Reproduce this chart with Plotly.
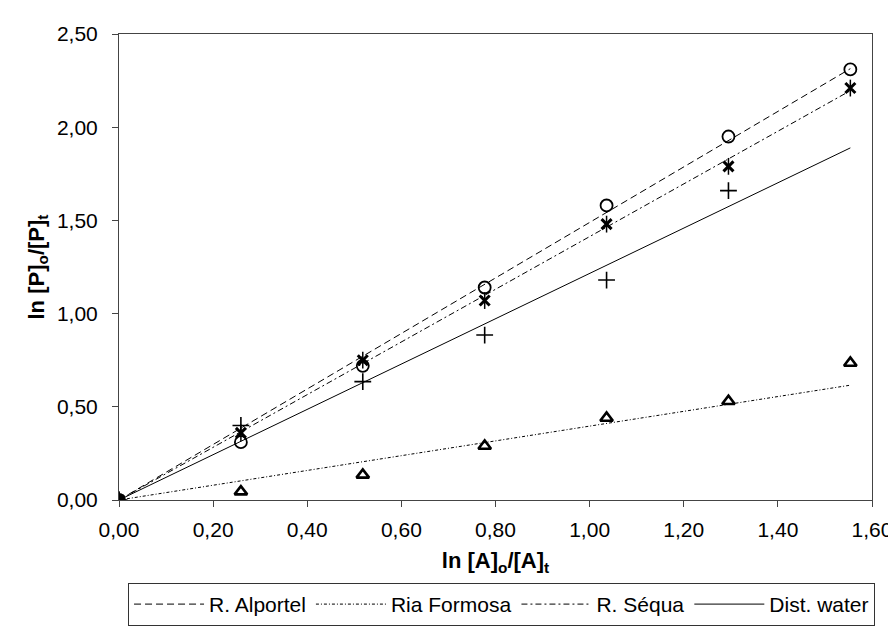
import plotly.graph_objects as go

# ---- data ----
x_vals = [0.0, 0.259, 0.518, 0.777, 1.036, 1.295, 1.554]
alportel = [0.0, 0.31, 0.72, 1.14, 1.58, 1.95, 2.31]
ria_formosa = [0.0, 0.045, 0.135, 0.29, 0.44, 0.53, 0.735]
sequa = [0.0, 0.36, 0.75, 1.07, 1.48, 1.79, 2.21]
dist_water = [0.0, 0.40, 0.635, 0.885, 1.18, 1.66]

series_names = ["R. Alportel", "Ria Formosa", "R. Séqua", "Dist. water"]
trend_x = [0.0, 1.554]
trend_end = [2.314, 0.616, 2.196, 1.889]   # trendline value at the last x

x_ticks = [0, 0.2, 0.4, 0.6, 0.8, 1.0, 1.2, 1.4, 1.6]
x_ticktext = ["0,00", "0,20", "0,40", "0,60", "0,80", "1,00", "1,20", "1,40", "1,60"]
y_ticks = [0, 0.5, 1.0, 1.5, 2.0, 2.5]
y_ticktext = ["0,00", "0,50", "1,00", "1,50", "2,00", "2,50"]

FONT = "Arial, 'Liberation Sans', sans-serif"
dashes = ["7px,4px", "3px,2px,1px,2px", "6px,3px,2px,3px", "solid"]

fig = go.Figure()

# trendlines (legend entries)
for name, end, dash in zip(series_names, trend_end, dashes):
    fig.add_trace(go.Scatter(
        x=trend_x, y=[0.0, end], mode="lines", name=name,
        line=dict(color="black", width=1, dash=dash),
        showlegend=True, hoverinfo="skip"))

# markers
fig.add_trace(go.Scatter(
    x=x_vals, y=alportel, mode="markers", showlegend=False,
    marker=dict(symbol="circle-open", size=12, color="black",
                line=dict(color="black", width=1.8))))
fig.add_trace(go.Scatter(
    x=x_vals, y=ria_formosa, mode="markers", showlegend=False,
    marker=dict(symbol="triangle-up-open", size=11, color="black",
                line=dict(color="black", width=2.6))))
fig.add_trace(go.Scatter(
    x=x_vals, y=sequa, mode="markers", showlegend=False,
    marker=dict(symbol="x-thin-open", size=10, color="black",
                line=dict(color="black", width=3))))
fig.add_trace(go.Scatter(
    x=x_vals, y=sequa, mode="markers", showlegend=False,
    marker=dict(symbol="line-ns-open", size=12, color="black",
                line=dict(color="black", width=1.5))))
fig.add_trace(go.Scatter(
    x=x_vals[:len(dist_water)], y=dist_water, mode="markers", showlegend=False,
    marker=dict(symbol="cross-thin-open", size=12, color="black",
                line=dict(color="black", width=1.6))))
# dark blob where all series meet at the origin
fig.add_trace(go.Scatter(
    x=x_vals[:1], y=alportel[:1], mode="markers", showlegend=False,
    marker=dict(symbol="square", size=10, color="black")))

fig.update_layout(
    width=896, height=630,
    margin=dict(l=111, r=28, t=26, b=124),
    paper_bgcolor="white", plot_bgcolor="white",
    font=dict(family=FONT, color="black", size=21),
    showlegend=True,
    legend=dict(
        orientation="h", x=0.012, y=-0.178, xanchor="left", yanchor="top",
        bordercolor="#333", borderwidth=1, bgcolor="white",
        font=dict(family=FONT, size=21, color="black"),
        itemwidth=70, tracegroupgap=0),
    xaxis=dict(
        range=[0, 1.6], tickvals=x_ticks, ticktext=x_ticktext,
        showgrid=False, zeroline=False,
        showline=True, linecolor="#444", linewidth=1, mirror=True,
        ticks="outside", ticklen=6, tickcolor="#444",
        tickfont=dict(size=21), ticklabelstandoff=5,
        title=dict(text="<b>ln [A]<sub>o</sub>/[A]<sub>t</sub></b>",
                   font=dict(size=22), standoff=12)),
    yaxis=dict(
        range=[0, 2.5], tickvals=y_ticks, ticktext=y_ticktext,
        showgrid=False, zeroline=False,
        showline=True, linecolor="#444", linewidth=1, mirror=True,
        ticks="outside", ticklen=6, tickcolor="#444",
        tickfont=dict(size=21), ticklabelstandoff=10,
        title=dict(text="<b>ln [P]<sub>o</sub>/[P]<sub>t</sub></b>",
                   font=dict(size=22), standoff=6)),
)

fig.write_html("out.html")
